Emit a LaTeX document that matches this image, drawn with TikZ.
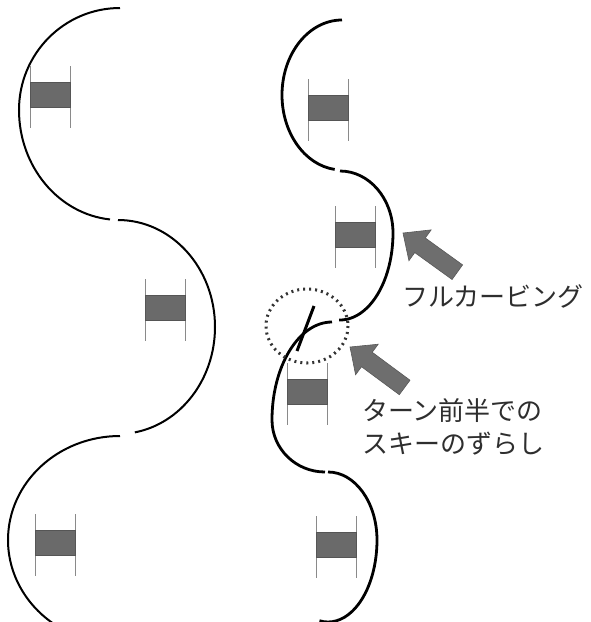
\documentclass[tikz,border=0pt]{standalone}
\usepackage{fontspec}
\newfontfamily\jp{Noto Sans CJK JP}
\definecolor{gatefill}{HTML}{6A6A6A}
\definecolor{polecol}{HTML}{8A8A8A}
\definecolor{arrowfill}{HTML}{6E6E6E}
\definecolor{txtcol}{HTML}{2E2E2E}
\begin{document}
\begin{tikzpicture}[x=1pt,y=-1pt,
  trackL/.style={line width=2pt,black},
  trackR/.style={line width=2.8pt,black},
  gatebox/.style={fill=gatefill,draw=gatefill!80!black,line width=0.5pt},
  gatepole/.style={draw=polecol,line width=1pt},
  blockarrow/.style={fill=arrowfill,draw=arrowfill!80!black,line width=0.6pt,line join=miter},
  lbl/.style={font=\jp\fontsize{26}{33}\selectfont,text=txtcol,inner sep=0pt,align=left}]
\useasboundingbox (0,0) rectangle (590,622);
\begin{scope}
\clip (0,0) rectangle (590,622);
% ---------- left track ----------
\draw[trackL] (120,110) ++(-90:101 and 102) arc[start angle=-90,end angle=-180,x radius=101,y radius=102]
  arc[start angle=180,end angle=95.7,x radius=101,y radius=110];
\draw[trackL] (118,327) ++(-90:97 and 107) arc[start angle=-90,end angle=0,x radius=97,y radius=107]
  arc[start angle=0,end angle=80,x radius=97,y radius=107];
\draw[trackL] (120,540) ++(-90:112 and 104) arc[start angle=-90,end angle=-180,x radius=112,y radius=104]
  arc[start angle=180,end angle=125,x radius=112,y radius=104];
% ---------- right track ----------
\draw[trackR] (342,95) ++(-90:60 and 75) arc[start angle=-90,end angle=-180,x radius=60,y radius=75]
  arc[start angle=180,end angle=97,x radius=60,y radius=75];
\draw[trackR] (340,233) ++(-90:53 and 62) arc[start angle=-90,end angle=0,x radius=53,y radius=62]
  arc[start angle=0,end angle=91,x radius=53,y radius=87];
\draw[trackR] (332,420) ++(-90:60 and 98) arc[start angle=-90,end angle=-180,x radius=60,y radius=98]
  arc[start angle=180,end angle=90,x radius=53,y radius=52];
\draw[trackR] (328,540) ++(-90:49 and 68) arc[start angle=-90,end angle=0,x radius=49,y radius=68]
  arc[start angle=0,end angle=100,x radius=49,y radius=82];
\end{scope}
% ---------- gates ----------
\foreach \gx/\gy [count=\i] in {30/82, 145/295, 35/530, 308/95, 335/222, 287/379, 316/532}{
  \draw[gatepole] (\gx,\gy-16) -- (\gx,\gy+46);
  \draw[gatepole] (\gx+40,\gy-16) -- (\gx+40,\gy+46);
  \node[gatebox,minimum width=40pt,minimum height=25pt,inner sep=0pt,anchor=north west] (gate\i) at (\gx,\gy) {};
}
% ---------- dotted circle and ski ----------
\draw[line width=3pt,color=black!80,dash pattern=on 2pt off 4pt] (307,326) ellipse[x radius=41,y radius=37];
\draw[line width=3pt,black] (314,306) -- (297,351);
% ---------- block arrows ----------
\begin{scope}[shift={(403,233)},rotate=-35.8]
\draw[blockarrow] (0,0) -- (21,-19) -- (21,-9) -- (67,-9) -- (67,9) -- (21,9) -- (21,19) -- cycle;
\end{scope}
\begin{scope}[shift={(350,347)},rotate=-36.5]
\draw[blockarrow] (0,0) -- (21,-19) -- (21,-9) -- (68,-9) -- (68,9) -- (21,9) -- (21,19) -- cycle;
\end{scope}
% ---------- labels ----------
\node[lbl,anchor=west] (lab1) at (402,296) {フルカービング};
\node[lbl,anchor=west] (lab2) at (362,427) {ターン前半での\\スキーのずらし};
\end{tikzpicture}
\end{document}
